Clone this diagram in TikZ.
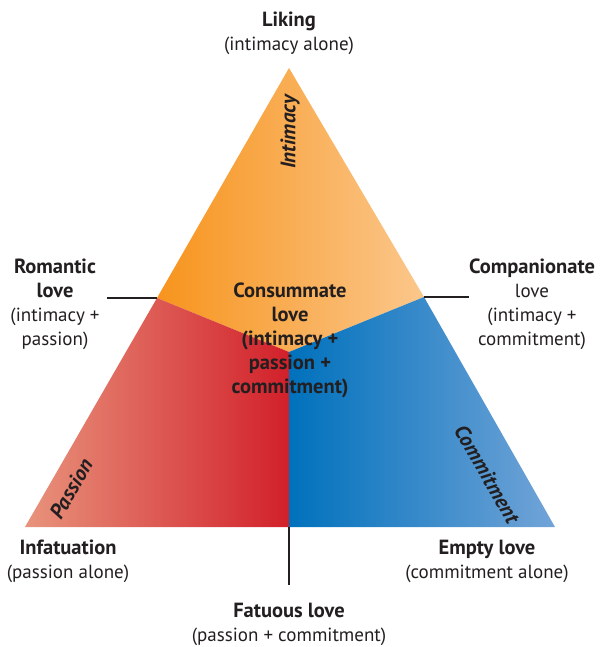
\documentclass[tikz,border=0pt]{standalone}
\usepackage{fontspec}
\setmainfont{PT Sans}
\definecolor{ink}{HTML}{231F20}
\definecolor{orangeL}{HTML}{F7941D}
\definecolor{orangeR}{HTML}{FBC78C}
\definecolor{redL}{HTML}{E8937C}
\definecolor{redR}{HTML}{D2202A}
\definecolor{blueL}{HTML}{0071BC}
\definecolor{blueR}{HTML}{72A4D8}
% bold headings are set a little larger than the regular lines
\newcommand{\hd}[1]{{\fontsize{20.5}{24}\selectfont\bfseries #1}}
\begin{document}
\begin{tikzpicture}[x=1pt,y=-1pt,
  lbl/.style={align=center,text=ink,font=\fontsize{19}{24}\selectfont,inner sep=0pt},
  side/.style={text=ink,font=\fontsize{21}{24}\selectfont\bfseries\itshape,inner sep=0pt},
  tick/.style={draw=ink,line width=1.8pt}]
\useasboundingbox (0,0) rectangle (605,647);
% corner points of the triangle
\coordinate (top) at (289,68);
\coordinate (bl) at (25,527);
\coordinate (br) at (555,527);
\coordinate (ml) at (157,298);
\coordinate (mr) at (424,297);
\coordinate (mb) at (289,527);
\coordinate (c) at (289,352);
% the three regions
\shade[left color=orangeL,right color=orangeR] (top) -- (mr) -- (c) -- (ml) -- cycle;
\shade[left color=redL,right color=redR] (ml) -- (c) -- (mb) -- (bl) -- cycle;
\shade[left color=blueL,right color=blueR] (c) -- (mr) -- (br) -- (mb) -- cycle;
% tick lines to the labels
\coordinate (tl) at (107,298);
\coordinate (tr) at (469,297);
\coordinate (tb) at (289,585);
\draw[tick] (ml) -- (tl);
\draw[tick] (mr) -- (tr);
\draw[tick] (mb) -- (tb);
% side names
\node[side,rotate=90] (intimacy) at (290,132) {Intimacy};
\node[side,rotate=60] (passion) at (71,489) {Passion};
\node[side,rotate=-60] (commit) at (487,474) {Commitment};
% labels
\node[lbl] (liking) at (289,33) {\hd{Liking}\\(intimacy alone)};
\node[lbl] (romantic) at (55,304) {\hd{Romantic}\\\hd{love}\\(intimacy +\\passion)};
\node[lbl] (compan) at (532,304) {\hd{Companionate}\\love\\(intimacy +\\commitment)};
\node[lbl] (consum) at (290,340) {\hd{Consummate}\\\hd{love}\\\hd{(intimacy +}\\\hd{passion +}\\\hd{commitment)}};
\node[lbl] (infat) at (68,561) {\hd{Infatuation}\\(passion alone)};
\node[lbl] (empty) at (487,561) {\hd{Empty love}\\(commitment alone)};
\node[lbl] (fatuous) at (289,624) {\hd{Fatuous love}\\(passion + commitment)};
\end{tikzpicture}
\end{document}
